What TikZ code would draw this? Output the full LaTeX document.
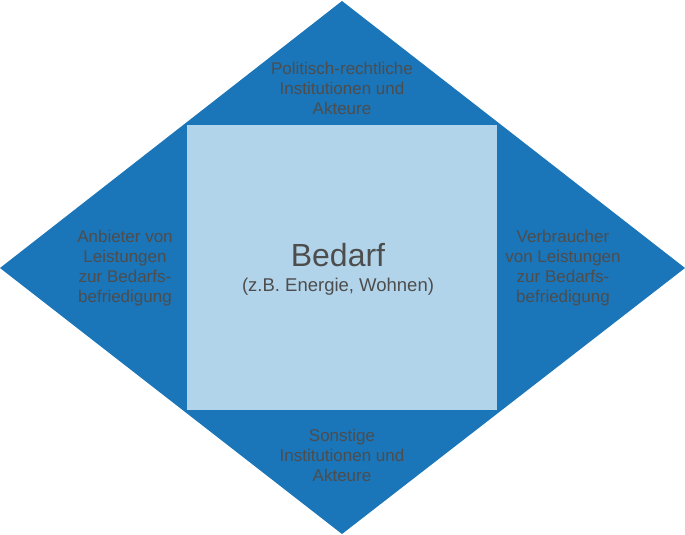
\documentclass[tikz,border=0pt]{standalone}
\usepackage{fontspec}
\setmainfont{Liberation Sans}
\definecolor{rautedunkel}{HTML}{1A75B9}
\definecolor{bedarfhell}{HTML}{B2D4EA}
\definecolor{schrift}{HTML}{4D4D4D}
\begin{document}
\begin{tikzpicture}[x=1pt,y=-1pt,
  feld/.style={text=schrift,align=center,font=\fontsize{17}{20}\selectfont}]
\useasboundingbox (0,0) rectangle (685,535);
\fill[rautedunkel] (342,1) -- (685,268) -- (342,534) -- (0,268) -- cycle;
\fill[bedarfhell] (187,125) rectangle (497,410);

\node[feld] (oben) at (342,88) {Politisch-rechtliche\\Institutionen und\\Akteure};
\node[feld] (links) at (125,268) {Anbieter von\\Leistungen\\zur Bedarfs-\\befriedigung};
\node[feld] (rechts) at (563,268) {Verbraucher\\von Leistungen\\zur Bedarfs-\\befriedigung};
\node[feld] (unten) at (342,455) {Sonstige\\Institutionen und\\Akteure};
\node[text=schrift,font=\fontsize{32}{36}\selectfont] (bedarf) at (338,255) {Bedarf};
\node[text=schrift,font=\fontsize{18.5}{22}\selectfont] (beispiel) at (338,287) {(z.B. Energie, Wohnen)};
\end{tikzpicture}
\end{document}
